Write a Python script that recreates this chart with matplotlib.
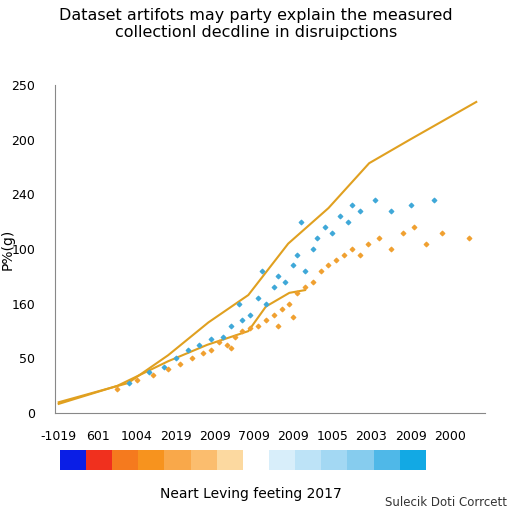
import matplotlib
matplotlib.use("Agg")
import matplotlib.pyplot as plt
from matplotlib.colors import ListedColormap
import numpy as np

title = "Dataset artifots may party explain the measured\ncollectionl decdline in disruipctions"
x_ticklabels = ["-1019", "601", "1004", "2019", "2009", "7009", "2009", "1005", "2003", "2009", "2000"]
y_ticklabels = ["0", "50", "160", "100", "240", "200", "250"]

line1_x = [0, 1.77, 2.8, 3.83, 4.85, 5.87, 6.9, 7.94, 8.98, 10.68]
line1_y = [0.2, 0.55, 1.06, 1.66, 2.16, 3.1, 3.75, 4.57, 5.0, 5.69]
line2_x = [0, 1.5, 2.8, 3.8, 4.85, 5.3, 5.9, 6.3]
line2_y = [0.17, 0.5, 0.95, 1.25, 1.5, 1.95, 2.2, 2.25]

blue_x = [1.8, 2.3, 2.7, 3.0, 3.3, 3.6, 3.9, 4.2, 4.4, 4.7, 4.9, 5.1, 5.3, 5.5, 5.6, 5.8, 6.0, 6.1, 6.3, 6.5, 6.6, 6.8, 7.0, 7.2, 7.4, 7.5, 7.7, 8.1, 8.5, 9.0, 9.6, 5.2, 4.6, 6.2]
blue_y = [0.55, 0.75, 0.85, 1.0, 1.15, 1.25, 1.35, 1.4, 1.6, 1.7, 1.8, 2.1, 2.0, 2.3, 2.5, 2.4, 2.7, 2.9, 2.6, 3.0, 3.2, 3.4, 3.3, 3.6, 3.5, 3.8, 3.7, 3.9, 3.7, 3.8, 3.9, 2.6, 2.0, 3.5]
orange_x = [1.5, 2.0, 2.4, 2.8, 3.1, 3.4, 3.7, 3.9, 4.1, 4.3, 4.5, 4.7, 4.9, 5.1, 5.3, 5.5, 5.7, 5.9, 6.1, 6.3, 6.5, 6.7, 6.9, 7.1, 7.3, 7.5, 7.7, 7.9, 8.2, 8.5, 8.8, 9.1, 9.4, 9.8, 10.5, 5.6, 6.0, 4.4]
orange_y = [0.45, 0.6, 0.7, 0.8, 0.9, 1.0, 1.1, 1.15, 1.3, 1.25, 1.4, 1.5, 1.55, 1.6, 1.7, 1.8, 1.9, 2.0, 2.2, 2.3, 2.4, 2.6, 2.7, 2.8, 2.9, 3.0, 2.9, 3.1, 3.2, 3.0, 3.3, 3.4, 3.1, 3.3, 3.2, 1.6, 1.75, 1.2]

bar_colors = ["#0a1ee6", "#f0301e", "#f57a1e", "#f7931e", "#f9a84a", "#fbbd6e", "#fcd9a0",
              "#ffffff", "#d8eefa", "#bde3f7", "#a3d8f3", "#86ccee", "#4fb8e8", "#12a9e4"]

fig = plt.figure(figsize=(5.12, 5.12), dpi=100)
ax = fig.add_axes([0.107, 0.193, 0.84, 0.641])
ax.plot(line1_x, line1_y, color="#e0a020", lw=1.5)
ax.plot(line2_x, line2_y, color="#e0a020", lw=1.5)
ax.scatter(blue_x, blue_y, s=5, color="#3fa8d8", marker="D", zorder=3)
ax.scatter(orange_x, orange_y, s=5, color="#f0a030", marker="D", zorder=3)
ax.set_xlim(-0.1, 10.9)
ax.set_ylim(0, 6)
ax.set_xticks(np.arange(len(x_ticklabels)))
ax.set_xticklabels(x_ticklabels, fontsize=9)
ax.set_yticks(np.arange(len(y_ticklabels)))
ax.set_yticklabels(y_ticklabels, fontsize=9)
ax.tick_params(length=0, pad=12)
ax.tick_params(axis="y", pad=14)
for s in ["top", "right"]:
    ax.spines[s].set_visible(False)
ax.spines["left"].set_color("#888888")
ax.spines["bottom"].set_color("#888888")
ax.set_ylabel("P%(g)", fontsize=10, labelpad=-2)
fig.suptitle(title, fontsize=11.5, y=0.985)

cax = fig.add_axes([0.117, 0.082, 0.713, 0.04])
cax.imshow([np.arange(len(bar_colors))], cmap=ListedColormap(bar_colors), aspect="auto")
cax.set_xticks([]); cax.set_yticks([])
for s in cax.spines.values():
    s.set_visible(False)

fig.text(0.49, 0.028, "Neart Leving feeting 2017", ha="center", fontsize=10)
fig.text(0.99, 0.012, "Sulecik Doti Corrcett", ha="right", fontsize=8.5, color="#333333")
fig.savefig("out.png", dpi=100, facecolor="white")
